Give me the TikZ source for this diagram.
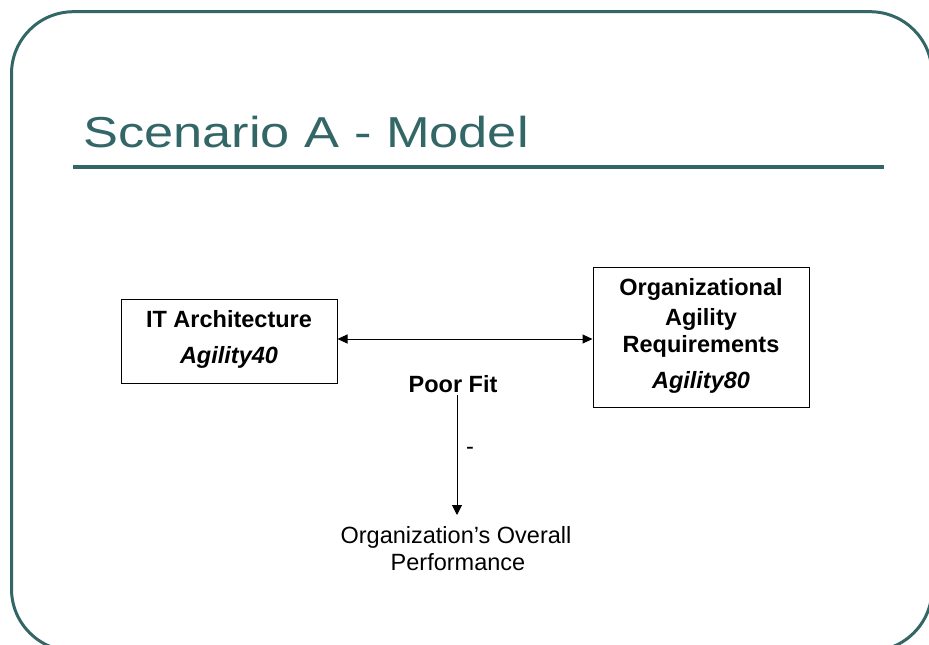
\documentclass[tikz,border=0pt]{standalone}
\usepackage{fontspec}
\setmainfont{Liberation Sans}
\usetikzlibrary{arrows.meta}
\definecolor{frameteal}{RGB}{51,102,102}
\begin{document}
\begin{tikzpicture}[x=1pt,y=-1pt,
  body/.style={font=\fontsize{23.5}{27}\selectfont, inner sep=0pt, anchor=base},
  boxstyle/.style={draw=black, line width=1pt, inner sep=0pt, fill=white},
  conn/.style={line width=1pt, draw=black}]
\useasboundingbox (0,0) rectangle (929,645);
\fill[white] (0,0) rectangle (929,645);
% slide frame
\draw[frameteal, line width=3pt, rounded corners=62pt] (11.5,11.7) rectangle (932,651);
% title and rule
\node[anchor=base west, inner sep=0pt, text=frameteal, font=\fontsize{43.3}{50}\selectfont, xscale=1.21] (title) at (83,147) {Scenario A - Model};
\draw[frameteal, line width=4pt] (73,167) -- (884,167);
% boxes
\node[boxstyle, minimum width=216pt, minimum height=84pt] (itbox) at (229,341) {};
\node[body] (itname) at (229,327) {\textbf{IT Architecture}};
\node[body] (itag) at (229,363) {\textbf{\textit{Agility40}}};
\node[boxstyle, minimum width=216pt, minimum height=140pt] (orgbox) at (701,337) {};
\node[body] (org1) at (701,295) {\textbf{Organizational}};
\node[body] (org2) at (701,325) {\textbf{Agility}};
\node[body] (org3) at (701,352) {\textbf{Requirements}};
\node[body] (orgag) at (701,388) {\textbf{\textit{Agility80}}};
% fit arrow
\draw[conn, {Triangle[length=10pt,width=9pt]}-{Triangle[length=10pt,width=9pt]}] (itbox.east |- 0,339) -- (orgbox.west |- 0,339);
\node[body] (fit) at (453,392) {\textbf{Poor Fit}};
\node[body] (minus) at (470,454) {-};
\node[body] (perf1) at (456,543) {Organization’s Overall};
\node[body] (perf2) at (458,570) {Performance};
\coordinate (tip) at (457,515);
\draw[conn, -{Triangle[length=10pt,width=10pt]}, shorten <=3pt] (fit.south -| tip) -- (tip);
\end{tikzpicture}
\end{document}
